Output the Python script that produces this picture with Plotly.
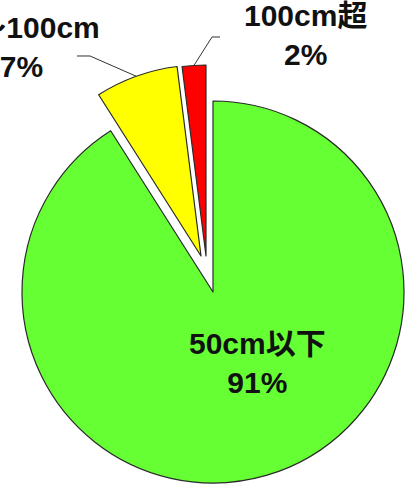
import math
import plotly.graph_objects as go

# Share of each depth class (percent), clockwise from 12 o'clock
categories = ["50cm以下", "50～100cm", "100cm超"]
shares = [91, 7, 2]
colors = ["#66FF33", "#FFFF00", "#FF0000"]

W, H = 417, 493
R = 191                      # pie radius in px
# each slice is drawn around its own centre so the small ones sit exploded
slice_centers = [(213, 292), (201, 256), (206, 256)]

fig = go.Figure()
for i, (cx, cy) in enumerate(slice_centers):
    fig.add_trace(go.Pie(
        values=shares,
        labels=categories,
        sort=False,
        direction="clockwise",
        rotation=0,
        textinfo="none",
        hoverinfo="label+percent",
        marker=dict(
            colors=[c if j == i else "rgba(0,0,0,0)" for j, c in enumerate(colors)],
            line=dict(color=["#2a2a2a" if j == i else "rgba(0,0,0,0)" for j in range(len(shares))],
                      width=[1.2 if j == i else 0 for j in range(len(shares))]),
        ),
        domain=dict(x=[(cx - R) / W, (cx + R) / W],
                    y=[1 - (cy + R) / H, 1 - (cy - R) / H]),
        showlegend=False,
    ))


def arc_mid(i):
    """Point on the outer arc in the middle of slice i (pixel coords)."""
    total = sum(shares)
    start = sum(shares[:i]) / total * 360
    mid = math.radians(start + shares[i] / total * 360 / 2)
    cx, cy = slice_centers[i]
    return cx + R * math.sin(mid), cy - R * math.cos(mid)


def px(x, y):
    return x / W, 1 - y / H


# label placement (pixel centres) and leader-line elbows
label_pos = [(257, 363), (21, 47), (305, 35)]
leaders = {1: [(77, 56), (90, 56)], 2: [(220, 37), (212, 37)]}

font = dict(family="Liberation Sans, Arial, Noto Sans CJK JP", size=30, color="#111111")
for i, (lx, ly) in enumerate(label_pos):
    ax, ay = px(lx, ly)
    fig.add_annotation(
        x=ax, y=ay, xref="paper", yref="paper",
        text=f"<b>{categories[i]}<br>{shares[i]}%</b>",
        showarrow=False, font=font, align="center",
        xanchor="center", yanchor="middle",
    )

for i, pts in leaders.items():
    pts = pts + [arc_mid(i)]
    path = "M " + " L ".join(f"{px(x, y)[0]:.5f},{px(x, y)[1]:.5f}" for x, y in pts)
    fig.add_shape(type="path", path=path, xref="paper", yref="paper",
                  line=dict(color="#333333", width=1))

fig.update_layout(
    width=W, height=H,
    margin=dict(l=0, r=0, t=0, b=0),
    paper_bgcolor="white", plot_bgcolor="white",
    showlegend=False,
)

fig.write_html("out.html")
